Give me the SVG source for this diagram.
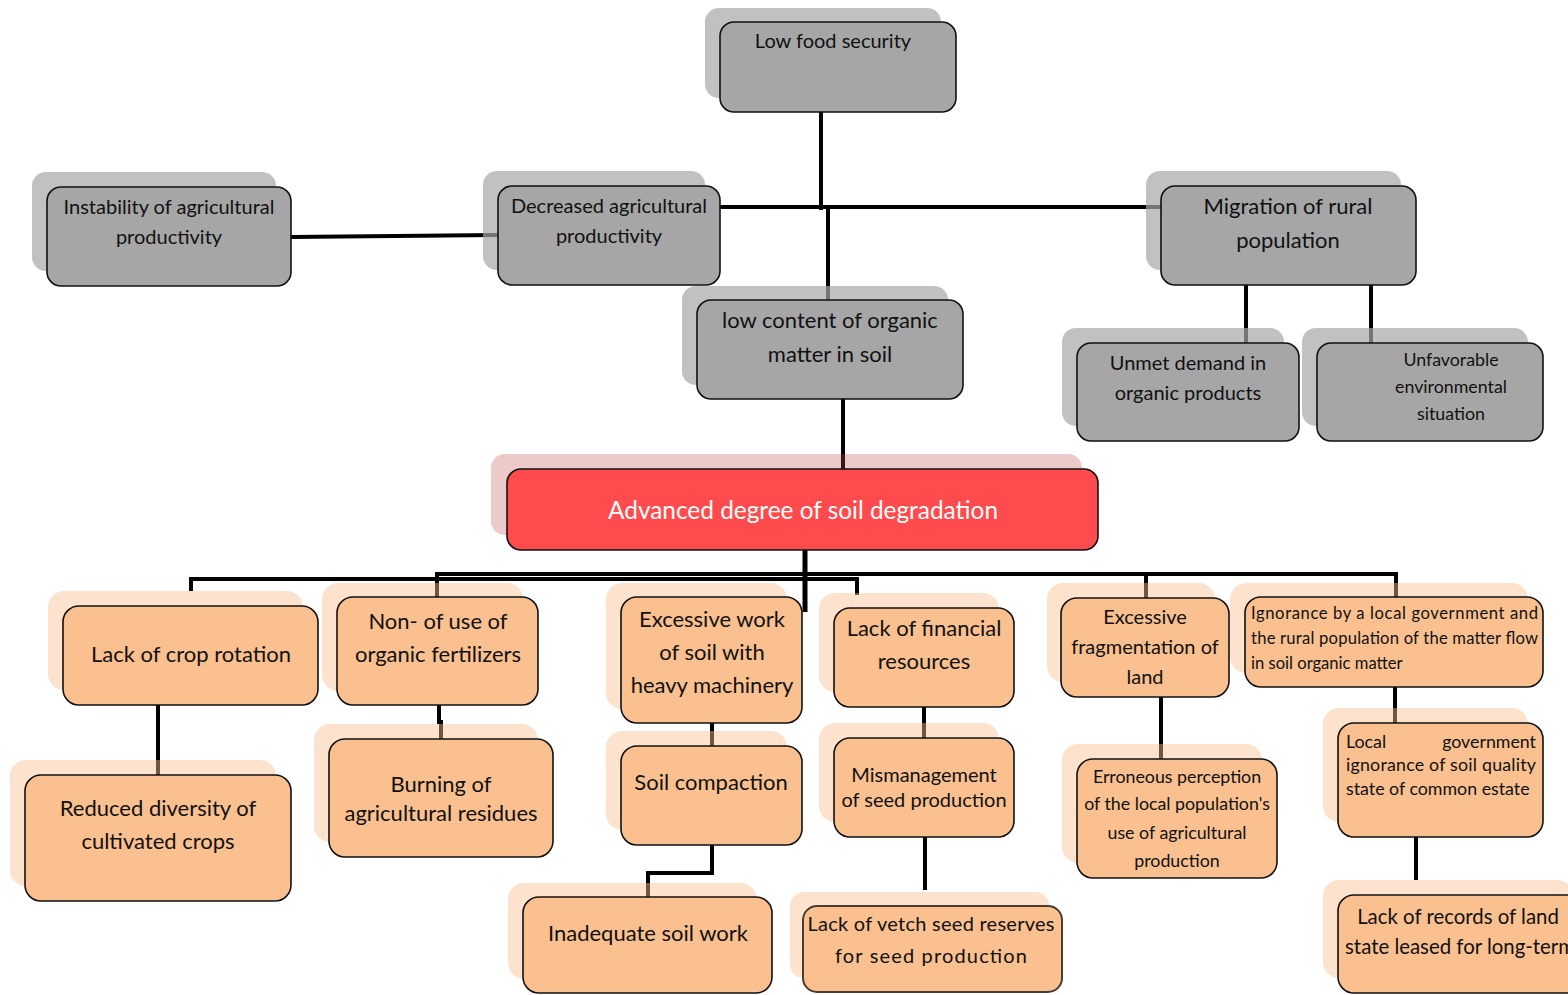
<svg xmlns="http://www.w3.org/2000/svg" width="1568" height="995" viewBox="0 0 1568 995">
  <defs>
    <style>
      text { font-family: Lato, "Liberation Sans", sans-serif; fill: #111; text-anchor: middle; }
      .box { stroke: #111; stroke-width: 1.6; }
      .gray { fill: #a6a6a6; }
      .gray-sh { fill: #a6a6a6; opacity: 0.7; }
      .org { fill: #fac090; }
      .org-sh { fill: #fac090; opacity: 0.45; }
      .red { fill: #ff4b4d; }
      .red-sh { fill: #c0504d; opacity: 0.3; }
      .wire { fill: none; stroke: #000; stroke-width: 4; }
      .f15 { font-size: 16.6px; }
      .f16 { font-size: 17.8px; }
      .f19 { font-size: 20px; }
      .f21 { font-size: 22px; }
      .left { text-anchor: start; }
      .end { text-anchor: end; }
    </style>
  </defs>
  <rect width="1568" height="995" fill="#fff"/>

  <!-- connectors -->
  <g id="connectors">
    <path class="wire" d="M821 112 V210"/>
    <path class="wire" d="M720 207 H1161"/>
    <path class="wire" d="M828 206 V305"/>
    <path class="wire" d="M291 237 L498 235"/>
    <path class="wire" d="M1246 285 V343"/>
    <path class="wire" d="M1371 285 V343"/>
    <path class="wire" d="M843 399 V469"/>
    <path class="wire" d="M805 550 V612" style="stroke-width:5"/>
    <path class="wire" d="M191 591 V579 H857 V595"/>
    <path class="wire" d="M437 597 V574 H1396 V597"/>
    <path class="wire" d="M1146 574 V598"/>
    <path class="wire" d="M158 705 V775"/>
    <path class="wire" d="M439 705 V722 H441 V739"/>
    <path class="wire" d="M712 723 V746"/>
    <path class="wire" d="M712 845 V873 H648 V897"/>
    <path class="wire" d="M924 707 V738"/>
    <path class="wire" d="M925 837 V890"/>
    <path class="wire" d="M1161 697 V759"/>
    <path class="wire" d="M1395 687 V723"/>
    <path class="wire" d="M1416 837 V880"/>
  </g>

  <!-- upper (effects) level -->
  <g id="low-food-security">
    <rect class="gray-sh" x="705" y="8" width="236" height="90" rx="14"/>
    <rect class="box gray" x="720" y="22" width="236" height="90" rx="14"/>
    <text class="f19" x="833" y="48">Low food security</text>
  </g>
  <g id="instability">
    <rect class="gray-sh" x="32" y="172" width="244" height="99" rx="14"/>
    <rect class="box gray" x="47" y="187" width="244" height="99" rx="14"/>
    <text class="f19" x="169" y="214">Instability of agricultural</text>
    <text class="f19" x="169" y="244">productivity</text>
  </g>
  <g id="decreased-productivity">
    <rect class="gray-sh" x="483" y="171" width="222" height="99" rx="14"/>
    <rect class="box gray" x="498" y="186" width="222" height="99" rx="14"/>
    <text class="f19" x="609" y="213">Decreased agricultural</text>
    <text class="f19" x="609" y="243">productivity</text>
  </g>
  <g id="migration">
    <rect class="gray-sh" x="1146" y="171" width="255" height="99" rx="14"/>
    <rect class="box gray" x="1161" y="186" width="255" height="99" rx="14"/>
    <text class="f21" x="1288" y="214">Migration of rural</text>
    <text class="f21" x="1288" y="248">population</text>
  </g>
  <g id="low-organic-matter">
    <rect class="gray-sh" x="682" y="286" width="266" height="99" rx="14"/>
    <rect class="box gray" x="697" y="300" width="266" height="99" rx="14"/>
    <text class="f21" x="830" y="328">low content of organic</text>
    <text class="f21" x="830" y="362">matter in soil</text>
  </g>
  <g id="unmet-demand">
    <rect class="gray-sh" x="1062" y="328" width="222" height="98" rx="14"/>
    <rect class="box gray" x="1077" y="343" width="222" height="98" rx="14"/>
    <text class="f19" x="1188" y="370">Unmet demand in</text>
    <text class="f19" x="1188" y="400">organic products</text>
  </g>
  <g id="unfavorable-environment">
    <rect class="gray-sh" x="1302" y="328" width="226" height="98" rx="14"/>
    <rect class="box gray" x="1317" y="343" width="226" height="98" rx="14"/>
    <text class="f16" x="1451" y="366">Unfavorable</text>
    <text class="f16" x="1451" y="393">environmental</text>
    <text class="f16" x="1451" y="420">situation</text>
  </g>

  <!-- core problem -->
  <g id="soil-degradation">
    <rect class="red-sh" x="491" y="454" width="591" height="81" rx="14"/>
    <rect class="box red" x="507" y="469" width="591" height="81" rx="14"/>
    <text x="803" y="519" style="font-size:24.4px;fill:#fff">Advanced degree of soil degradation</text>
  </g>

  <!-- lower (causes) level -->
  <g id="crop-rotation">
    <rect class="org-sh" x="48" y="591" width="255" height="99" rx="16"/>
    <rect class="box org" x="63" y="606" width="255" height="99" rx="16"/>
    <text class="f21" x="191" y="662">Lack of crop rotation</text>
  </g>
  <g id="organic-fertilizers">
    <rect class="org-sh" x="322" y="583" width="201" height="108" rx="16"/>
    <rect class="box org" x="337" y="597" width="201" height="108" rx="16"/>
    <text class="f21" x="438" y="629">Non- of use of</text>
    <text class="f21" x="438" y="662">organic fertilizers</text>
  </g>
  <g id="heavy-machinery">
    <rect class="org-sh" x="606" y="583" width="181" height="126" rx="16"/>
    <rect class="box org" x="621" y="597" width="181" height="126" rx="16"/>
    <text class="f21" x="712" y="627">Excessive work</text>
    <text class="f21" x="712" y="660">of soil with</text>
    <text class="f21" x="712" y="693">heavy machinery</text>
  </g>
  <g id="financial-resources">
    <rect class="org-sh" x="819" y="593" width="180" height="99" rx="16"/>
    <rect class="box org" x="834" y="608" width="180" height="99" rx="16"/>
    <text class="f21" x="924" y="636">Lack of financial</text>
    <text class="f21" x="924" y="669">resources</text>
  </g>
  <g id="land-fragmentation">
    <rect class="org-sh" x="1047" y="583" width="168" height="99" rx="16"/>
    <rect class="box org" x="1061" y="598" width="168" height="99" rx="16"/>
    <text class="f19" x="1145" y="624">Excessive</text>
    <text class="f19" x="1145" y="654">fragmentation of</text>
    <text class="f19" x="1145" y="684">land</text>
  </g>
  <g id="ignorance-matter-flow">
    <rect class="org-sh" x="1230" y="583" width="298" height="90" rx="16"/>
    <rect class="box org" x="1245" y="597" width="298" height="90" rx="16"/>
    <text class="f15 left" x="1251" y="619" textLength="287" lengthAdjust="spacing">Ignorance by a local government and</text>
    <text class="f15 left" x="1251" y="644" textLength="287" lengthAdjust="spacing">the rural population of the matter flow</text>
    <text class="f15 left" x="1251" y="669">in soil organic matter</text>
  </g>
  <g id="crop-diversity">
    <rect class="org-sh" x="10" y="760" width="266" height="126" rx="16"/>
    <rect class="box org" x="25" y="775" width="266" height="126" rx="16"/>
    <text class="f21" x="158" y="816">Reduced diversity of</text>
    <text class="f21" x="158" y="849">cultivated crops</text>
  </g>
  <g id="residue-burning">
    <rect class="org-sh" x="314" y="724" width="224" height="118" rx="16"/>
    <rect class="box org" x="329" y="739" width="224" height="118" rx="16"/>
    <text class="f21" x="441" y="792">Burning of</text>
    <text class="f21" x="441" y="821">agricultural residues</text>
  </g>
  <g id="soil-compaction">
    <rect class="org-sh" x="606" y="731" width="181" height="99" rx="16"/>
    <rect class="box org" x="621" y="746" width="181" height="99" rx="16"/>
    <text class="f21" x="711" y="790">Soil compaction</text>
  </g>
  <g id="inadequate-soil-work">
    <rect class="org-sh" x="508" y="883" width="249" height="96" rx="16"/>
    <rect class="box org" x="523" y="897" width="249" height="96" rx="16"/>
    <text class="f21" x="648" y="941">Inadequate soil work</text>
  </g>
  <g id="seed-mismanagement">
    <rect class="org-sh" x="819" y="723" width="180" height="99" rx="16"/>
    <rect class="box org" x="834" y="738" width="180" height="99" rx="16"/>
    <text class="f19" x="924" y="782">Mismanagement</text>
    <text class="f19" x="924" y="807">of seed production</text>
  </g>
  <g id="vetch-seed-reserves">
    <rect class="org-sh" x="790" y="892" width="259" height="86" rx="14"/>
    <rect class="box org" x="803" y="906" width="259" height="86" rx="14" style="stroke:#4a3c30;stroke-width:2"/>
    <text class="f19" x="931" y="931" textLength="247" lengthAdjust="spacing">Lack of vetch seed reserves</text>
    <text class="f19" x="931" y="963" textLength="192" lengthAdjust="spacing">for seed production</text>
  </g>
  <g id="erroneous-perception">
    <rect class="org-sh" x="1062" y="744" width="200" height="119" rx="16"/>
    <rect class="box org" x="1077" y="759" width="200" height="119" rx="16"/>
    <text class="f16" x="1177" y="783">Erroneous perception</text>
    <text class="f16" x="1177" y="810">of the local population's</text>
    <text class="f16" x="1177" y="839">use of agricultural</text>
    <text class="f16" x="1177" y="867">production</text>
  </g>
  <g id="government-ignorance">
    <rect class="org-sh" x="1323" y="708" width="205" height="114" rx="16"/>
    <rect class="box org" x="1338" y="723" width="205" height="114" rx="16"/>
    <text class="f16 left" x="1346" y="748">Local</text>
    <text class="f16 end" x="1536" y="748">government</text>
    <text class="f16 left" x="1346" y="771" textLength="190" lengthAdjust="spacing">ignorance of soil quality</text>
    <text class="f16 left" x="1346" y="795">state of common estate</text>
  </g>
  <g id="land-records">
    <rect class="org-sh" x="1323" y="880" width="250" height="98" rx="16"/>
    <rect class="box org" x="1338" y="895" width="250" height="98" rx="16"/>
    <text x="1458" y="924" style="font-size:20.4px">Lack of records of land</text>
    <text class="left" x="1345" y="954" style="font-size:20.4px">state leased for long-term</text>
  </g>
</svg>
